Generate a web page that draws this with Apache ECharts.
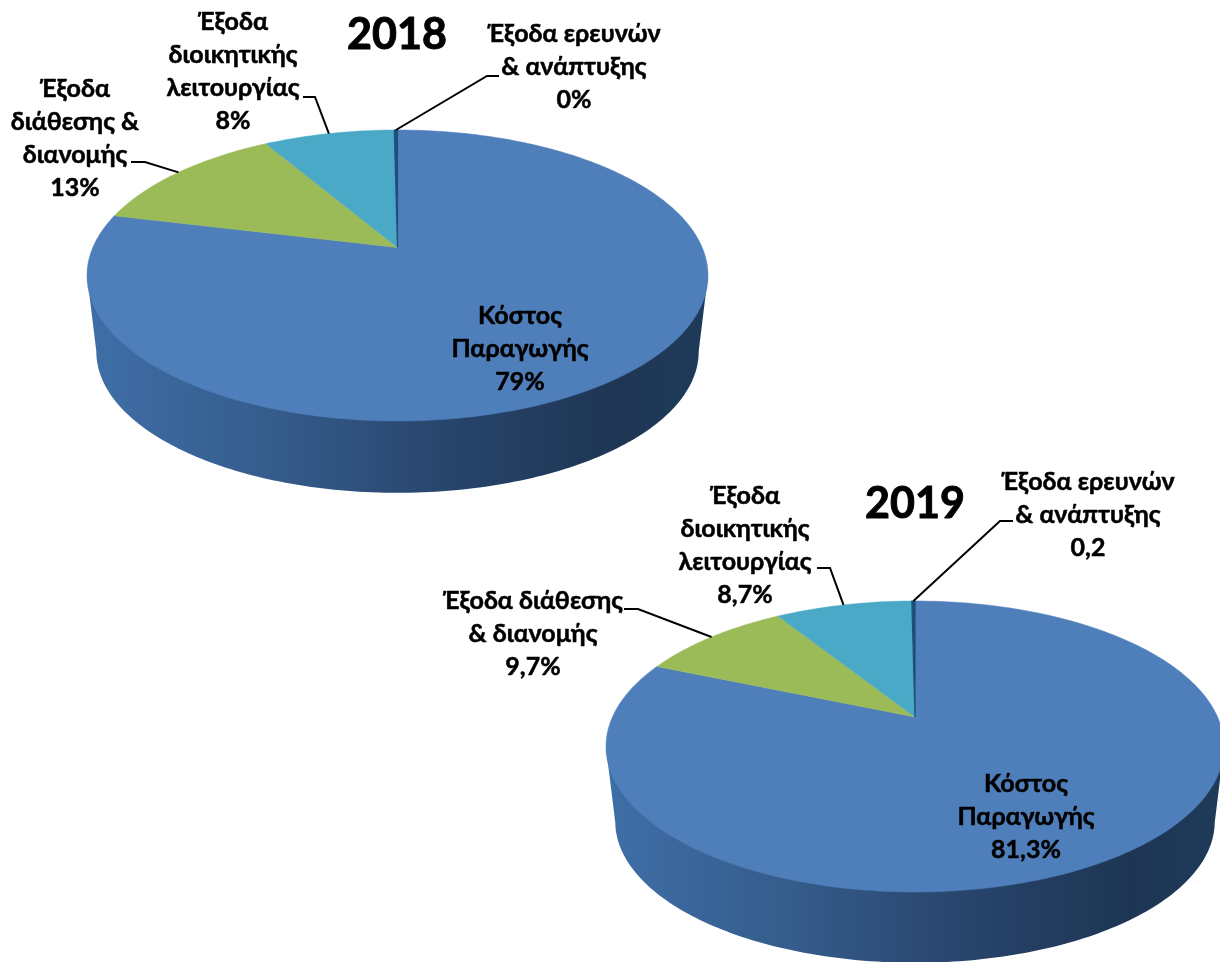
<!DOCTYPE html>
<html>
<head>
<meta charset="utf-8">
<style>html,body{margin:0;padding:0;background:#fff}#c{width:1220px;height:962px}</style>
<script src="https://cdn.jsdelivr.net/npm/echarts@6/dist/echarts.min.js"></script>
</head>
<body>
<div id="c"></div>
<script>
const titles = ['2018', '2019'];
const categories2018 = ['Κόστος\nΠαραγωγής', 'Έξοδα\nδιάθεσης &\nδιανομής', 'Έξοδα\nδιοικητικής\nλειτουργίας', 'Έξοδα ερευνών\n& ανάπτυξης'];
const categories2019 = ['Κόστος\nΠαραγωγής', 'Έξοδα διάθεσης\n& διανομής', 'Έξοδα\nδιοικητικής\nλειτουργίας', 'Έξοδα ερευνών\n& ανάπτυξης'];
const values2018 = [78.8, 12.8, 8.2, 0.2];
const values2019 = [81.3, 9.7, 8.7, 0.2];
const valueLabels2018 = ['79%', '13%', '8%', '0%'];
const valueLabels2019 = ['81,3%', '9,7%', '8,7%', '0,2'];

const FONT = 'Lato, "Noto Sans", sans-serif';
const sliceColors = ['#4f7fbb', '#9bbb59', '#4aa9c6', '#1f4e7d'];
const wallStops = [
  {offset: 0, color: '#3f6ea8'}, {offset: 0.3, color: '#355c8b'},
  {offset: 0.6, color: '#27436a'}, {offset: 0.85, color: '#1e3654'}, {offset: 1, color: '#1f3a5a'}
];
// geometry of each pie's perspective
const geom2018 = {cx: 397.5, apex: 247.5, top: 130, bottom: 421, halfW: 310.5, drop: 77, shrink: 0.97};
const geom2019 = {cx: 915, apex: 717, top: 601, bottom: 892, halfW: 309, drop: 76, shrink: 0.97};
// label placement: text block centre, leader elbow and text-side start
const place2018 = [
  {x: 520, y: 349},
  {x: 75, y: 138, from: [131, 162], elbow: [145, 162]},
  {x: 233, y: 71, from: [303, 97], elbow: [315, 97]},
  {x: 574, y: 67, from: [499, 76], elbow: [487, 76]}
];
const place2019 = [
  {x: 1026, y: 817},
  {x: 533, y: 634, from: [624, 609], elbow: [638, 609]},
  {x: 745, y: 545, from: [817, 568], elbow: [830, 568]},
  {x: 1088, y: 515, from: [1013, 521], elbow: [1000, 521]}
];

function projector(g) {
  const up = g.apex - g.top, dn = g.bottom - g.apex;
  const k = (up - dn) / (up + dn);
  const b = up * (1 - k);
  const a = g.halfW * Math.sqrt(1 - k * k);
  return function (deg, low) {
    const t = deg * Math.PI / 180, u = Math.sin(t), v = -Math.cos(t), w = 1 + k * v;
    const s = low ? g.shrink : 1;
    return [g.cx + s * a * u / w, g.apex + (low ? g.drop : 0) + s * b * v / w];
  };
}
function angles(values, i) {
  const total = values.reduce((p, c) => p + c, 0);
  let acc = 0;
  for (let j = 0; j < i; j++) acc += values[j];
  return [acc / total * 360, (acc + values[i]) / total * 360];
}
function wallShape(g) {
  const P = projector(g);
  let left = 0, right = 0, lx = Infinity, rx = -Infinity;
  for (let d = 0; d < 360; d++) {
    const x = P(d, false)[0];
    if (x < lx) { lx = x; left = d; }
    if (x > rx) { rx = x; right = d; }
  }
  const pts = [];
  for (let d = right; d <= left; d++) pts.push(P(d, true));
  pts.push(P(left, false));
  pts.push(P(right, false));
  return pts;
}
function pieSeries(values, g) {
  const P = projector(g);
  return {
    type: 'custom', coordinateSystem: 'none', silent: true, z: 2,
    data: values.map(v => [v]),
    renderItem(params, api) {
      const i = params.dataIndex;
      api.value(0);
      const [a0, a1] = angles(values, i);
      const pts = [[g.cx, g.apex]];
      const n = Math.max(2, Math.ceil(a1 - a0));
      for (let s = 0; s <= n; s++) pts.push(P(a0 + (a1 - a0) * s / n, false));
      const children = [];
      if (i === 0) children.push({
        type: 'polygon', shape: {points: wallShape(g)},
        style: {fill: {type: 'linear', x: 0, y: 0, x2: 1, y2: 0, colorStops: wallStops}}
      });
      children.push({
        type: 'polygon', shape: {points: pts},
        style: {fill: sliceColors[i], stroke: sliceColors[i], lineWidth: i === 3 ? 1.2 : 0.5}
      });
      return {type: 'group', children};
    }
  };
}
function labelSeries(values, cats, vals, place, g) {
  const P = projector(g);
  return {
    type: 'custom', coordinateSystem: 'none', silent: true, z: 5,
    data: values.map(v => [v]),
    renderItem(params, api) {
      const i = params.dataIndex, p = place[i];
      api.value(0);
      const children = [{
        type: 'text',
        style: {
          text: cats[i] + '\n' + vals[i], x: p.x, y: p.y, align: 'center', verticalAlign: 'middle',
          fontFamily: FONT, fontWeight: 'bold', fontSize: 25, lineHeight: 33, fill: '#000',
          stroke: '#000', lineWidth: 0.5
        }
      }];
      if (p.from) {
        const [a0, a1] = angles(values, i);
        children.push({
          type: 'polyline', shape: {points: [p.from, p.elbow, P((a0 + a1) / 2, false)]},
          style: {fill: 'none', stroke: '#000', lineWidth: 2}
        });
      }
      return {type: 'group', children};
    }
  };
}
const chart = echarts.init(document.getElementById('c'), null, {renderer: 'canvas'});
const titleStyle = {fontFamily: FONT, fontWeight: 'bold', fontSize: 43, color: '#000', textBorderColor: '#000', textBorderWidth: 1};
chart.setOption({
  animation: false,
  backgroundColor: '#fff',
  title: [
    {text: titles[0], left: 397, top: 14, textAlign: 'center', padding: 0, textStyle: titleStyle},
    {text: titles[1], left: 915, top: 483, textAlign: 'center', padding: 0, textStyle: titleStyle}
  ],
  series: [
    pieSeries(values2018, geom2018),
    labelSeries(values2018, categories2018, valueLabels2018, place2018, geom2018),
    pieSeries(values2019, geom2019),
    labelSeries(values2019, categories2019, valueLabels2019, place2019, geom2019)
  ]
});
</script>
</body>
</html>
